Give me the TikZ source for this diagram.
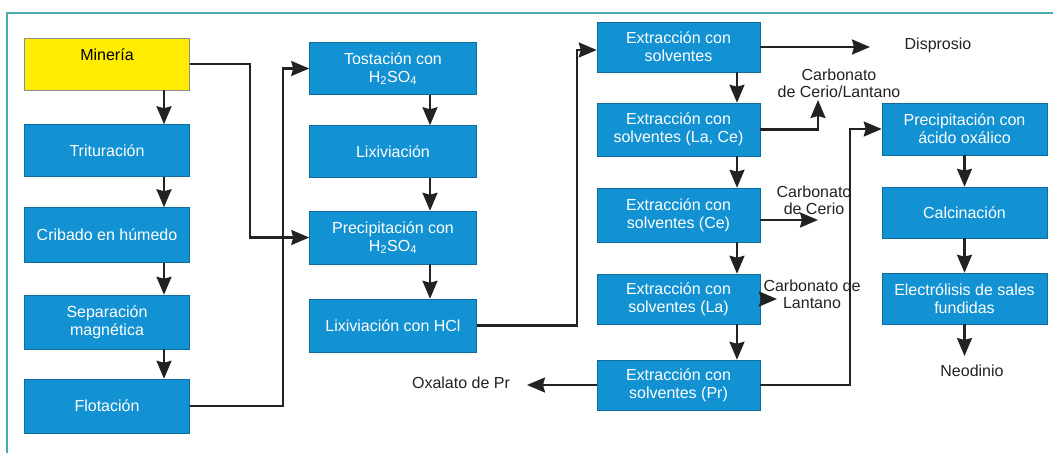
\documentclass[tikz,border=0pt]{standalone}
\usepackage{fontspec}
\setmainfont{Liberation Sans}
\usepackage{tikz}
\usetikzlibrary{arrows.meta,positioning,calc}
\definecolor{procblue}{RGB}{18,146,210}
\definecolor{minyellow}{RGB}{255,236,0}
\definecolor{frameteal}{RGB}{70,172,172}
\definecolor{flowgray}{RGB}{34,34,34}

\begin{document}
\begin{tikzpicture}[x=1pt,y=-1pt,>={Stealth[length=18pt,width=15pt,inset=2pt]},
  proc/.style={rectangle,fill=procblue,draw=procblue!75!black,line width=0.5pt,
    text=white,align=center,inner sep=0pt,minimum width=165pt,minimum height=52pt,
    font=\fontsize{16}{18}\selectfont},
  prod/.style={align=center,text=flowgray,inner sep=0pt,font=\fontsize{16}{17}\selectfont},
  flow/.style={draw=flowgray,line width=2.2pt,->}]
  \useasboundingbox (0,0) rectangle (1053,453);
  \draw[frameteal,line width=1.5pt] (7,453) -- (7,13) -- (1053,13);

  \node[proc,fill=minyellow,draw=black!45,text=black] (mineria) at (107,64) {Minería\\~};
  \node[proc] (trit) at (107,150.5) {Trituración};
  \node[proc,minimum height=55pt] (crib) at (107,235) {Cribado en húmedo};
  \node[proc,minimum height=54pt] (sepmag) at (107,322) {Separación\\magnética};
  \node[proc,minimum height=54pt] (flot) at (107,406) {Flotación};

  \node[proc,minimum width=167pt] (tost) at (393,68.5) {Tostación con\\H\textsubscript{2}SO\textsubscript{4}};
  \node[proc,minimum width=167pt] (lixi) at (393,151.5) {Lixiviación};
  \node[proc,minimum width=167pt,minimum height=53pt] (precs) at (393,237.5) {Precipitación con\\H\textsubscript{2}SO\textsubscript{4}};
  \node[proc,minimum width=167pt,minimum height=53pt] (lixhcl) at (393,325.5) {Lixiviación con HCl};

  \node[proc,minimum width=163pt,minimum height=50pt] (ext1) at (678.5,47) {Extracción con\\solventes};
  \node[proc,minimum width=163pt,minimum height=53pt] (ext2) at (678.5,129.5) {Extracción con\\solventes (La, Ce)};
  \node[proc,minimum width=163pt,minimum height=54pt] (ext3) at (678.5,215) {Extracción con\\solventes (Ce)};
  \node[proc,minimum width=163pt,minimum height=50pt] (ext4) at (678.5,299) {Extracción con\\solventes (La)};
  \node[proc,minimum width=163pt,minimum height=50pt] (ext5) at (678.5,385) {Extracción con\\solventes (Pr)};

  \node[proc] (precox) at (964.5,129) {Precipitación con\\ácido oxálico};
  \node[proc,minimum height=51pt] (calc) at (964.5,212.5) {Calcinación};
  \node[proc,minimum height=51pt] (electro) at (964.5,298.5) {Electrólisis de sales\\fundidas};

  \node[prod] (disp) at (938,45) {Disprosio};
  \node[prod] (carbcela) at (839,83) {Carbonato\\de Cerio/Lantano};
  \node[prod] (carbce) at (814,200) {Carbonato\\de Cerio};
  \node[prod] (carbla) at (812,294) {Carbonato de\\Lantano};
  \node[prod] (oxpr) at (461,383) {Oxalato de Pr};
  \node[prod] (neod) at (972,371) {Neodinio};

  \coordinate (dispin) at (870,47);
  \coordinate (celain) at (818,100);
  \coordinate (cein) at (818,220);
  \coordinate (lain) at (777,299);
  \coordinate (prin) at (527,385);
  \coordinate (ndin) at (964.5,356);

  \draw[flow] ([xshift=57pt]mineria.south) -- ([xshift=57pt]trit.north);
  \draw[flow] ([xshift=57pt]trit.south) -- ([xshift=57pt]crib.north);
  \draw[flow] ([xshift=57pt]crib.south) -- ([xshift=57pt]sepmag.north);
  \draw[flow] ([xshift=57pt]sepmag.south) -- ([xshift=57pt]flot.north);
  \draw[flow] (mineria.east) -- ++(60,0) |- (precs.west);
  \draw[flow] (flot.east) -- ++(93,0) |- (tost.west);

  \draw[flow] ([xshift=37pt]tost.south) -- ([xshift=37pt]lixi.north);
  \draw[flow] ([xshift=37pt]lixi.south) -- ([xshift=37pt]precs.north);
  \draw[flow] ([xshift=37pt]precs.south) -- ([xshift=37pt]lixhcl.north);
  \draw[flow] (lixhcl.east) -- ++(100,0) |- ([yshift=-3pt]ext1.west);

  \draw[flow] ([xshift=58.5pt]ext1.south) -- ([xshift=58.5pt]ext2.north);
  \draw[flow] ([xshift=58.5pt]ext2.south) -- ([xshift=58.5pt]ext3.north);
  \draw[flow] ([xshift=58.5pt]ext3.south) -- ([xshift=58.5pt]ext4.north);
  \draw[flow] ([xshift=58.5pt]ext4.south) -- ([xshift=58.5pt]ext5.north);
  \draw[flow] (ext1.east) -- (dispin);
  \draw[flow] (ext2.east) -| (celain);
  \draw[flow] (ext3.east |- cein) -- (cein);
  \draw[flow] (ext4.east) -- (lain);
  \draw[flow] (ext5.west) -- (prin);
  \draw[flow] (ext5.east) -- ++(90,0) |- (precox.west);

  \draw[flow] (precox) -- (calc);
  \draw[flow] (calc) -- (electro);
  \draw[flow] (electro.south) -- (ndin);
\end{tikzpicture}
\end{document}
